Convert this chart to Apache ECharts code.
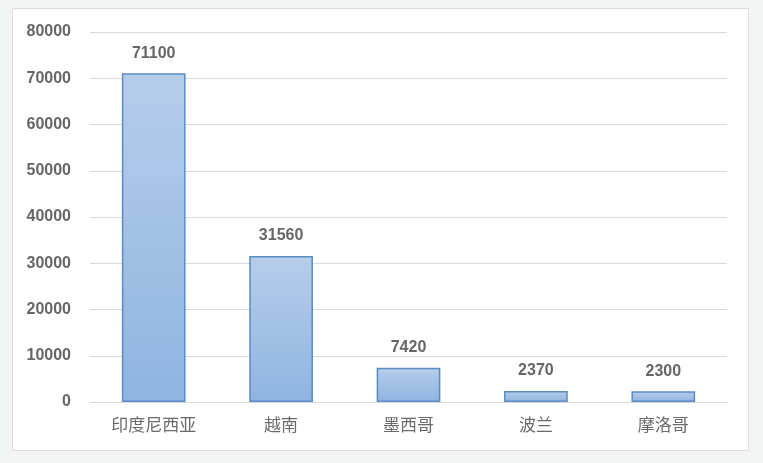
<!DOCTYPE html>
<html lang="zh">
<head>
    <meta charset="UTF-8" />
    <title>柱状图</title>
    <script src="https://cdn.jsdelivr.net/npm/echarts@6/dist/echarts.min.js"></script>
    <style>
        html, body { margin: 0; padding: 0; background: #f3f4f4; }
        #box {
            position: absolute; left: 12px; top: 8px;
            width: 735px; height: 441px;
            background: #ffffff; border: 1px solid #dcdcdc;
        }
        #myDiv { width: 735px; height: 441px; }
    </style>
</head>
<body>
    <div id="box"><div id="myDiv"></div></div>
    <script type="text/javascript">
        // 数据
        var categories = ['印度尼西亚', '越南', '墨西哥', '波兰', '摩洛哥'];
        var values = [71100, 31560, 7420, 2370, 2300];
        var yTicks = { min: 0, max: 80000, interval: 10000 };

        var myChart = echarts.init(document.getElementById('myDiv'));
        var option = {
            animation: false,
            grid: { left: 77, right: 21, top: 23, bottom: 48, containLabel: false },
            xAxis: {
                type: 'category',
                data: categories,
                axisLine: { lineStyle: { color: '#d9d9d9', width: 1 } },
                axisTick: { show: false },
                axisLabel: {
                    color: '#6a6a6a', fontSize: 17, margin: 14,
                    fontFamily: 'Noto Sans CJK SC'
                }
            },
            yAxis: {
                type: 'value',
                min: yTicks.min,
                max: yTicks.max,
                interval: yTicks.interval,
                axisLine: { show: false },
                axisTick: { show: false },
                splitLine: { lineStyle: { color: '#d9d9d9', width: 1 } },
                axisLabel: {
                    color: '#666666', fontSize: 16, fontWeight: 'bold', margin: 19,
                    fontFamily: 'Liberation Sans',
                    formatter: function (v) { return String(v); }
                }
            },
            series: [{
                type: 'bar',
                data: values,
                barWidth: '50%',
                itemStyle: {
                    color: new echarts.graphic.LinearGradient(0, 0, 0, 1, [
                        { offset: 0, color: '#b5cdea' },
                        { offset: 1, color: '#8fb4e2' }
                    ]),
                    borderColor: '#5b8ac4',
                    borderWidth: 1.5
                },
                label: {
                    show: true,
                    position: 'top',
                    distance: 12,
                    color: '#666666',
                    fontSize: 16,
                    fontWeight: 'bold',
                    fontFamily: 'Liberation Sans'
                }
            }]
        };
        myChart.setOption(option);
    </script>
</body>
</html>
